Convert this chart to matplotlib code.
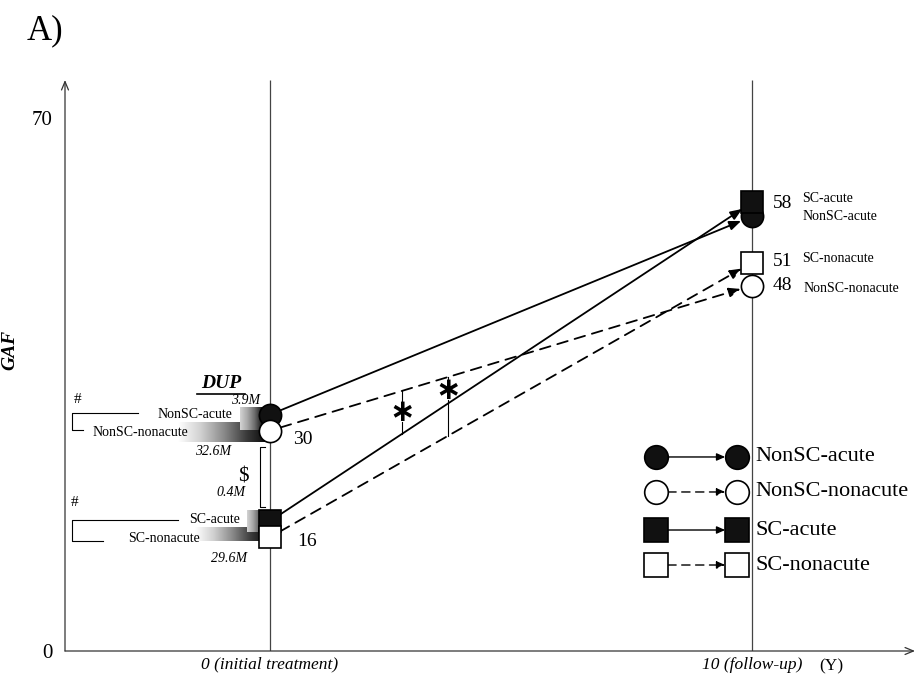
import numpy as np
import matplotlib
matplotlib.use("Agg")
import matplotlib.pyplot as plt
from matplotlib.colors import LinearSegmentedColormap

plt.rcParams["font.family"] = ["Liberation Serif", "DejaVu Serif"]

# GAF scores at initial treatment (year 0) and at follow-up (year 10)
groups = ["NonSC-acute", "NonSC-nonacute", "SC-acute", "SC-nonacute"]
years = [0, 10]
gaf_initial = [30, 30, 16, 16]
gaf_followup = [58, 48, 58, 51]
dup_labels = ["3.9M", "32.6M", "0.4M", "29.6M"]
x_tick_labels = ["0 (initial treatment)", "10 (follow-up)"]
y_tick_values = [0, 70]

# per-group styling
markers = ["o", "o", "s", "s"]
face = ["#111111", "white", "#111111", "white"]
lstyle = ["-", (0, (6, 4)), "-", (0, (6, 4))]
# vertical nudges (pixels) so overlapping symbols stay visible
nudge_initial = [8, -8, 8, -8]
nudge_follow = [-7, 0, 7, 0]

fig = plt.figure(figsize=(9.17, 6.86), dpi=100)
ax = fig.add_axes([65 / 917, 35 / 686, 850 / 917, 571 / 686])
XMIN, XMAX = -4.253, 13.38
YMIN, YMAX = 0, 75
PX_X = 850 / (XMAX - XMIN)
PX_Y = 571 / (YMAX - YMIN)


def dx(p):
    return p / PX_X


def dy(p):
    return p / PX_Y


for s in ax.spines.values():
    s.set_visible(False)

# axes drawn as arrows
ax.annotate("", xy=(0, 1), xytext=(0, 0), xycoords="axes fraction",
            arrowprops=dict(arrowstyle="->,head_length=0.6,head_width=0.25",
                            lw=0.9, color="#333333", shrinkA=0, shrinkB=0))
ax.annotate("", xy=(1, 0), xytext=(0, 0), xycoords="axes fraction",
            arrowprops=dict(arrowstyle="->,head_length=0.6,head_width=0.25",
                            lw=0.9, color="#333333", shrinkA=0, shrinkB=0))

# time guides
ax.vlines(years, YMIN, YMAX, color="#444444", lw=0.9, zorder=1)

ax.set_xticks(years)
ax.set_xticklabels(x_tick_labels, fontstyle="italic", fontsize=12.5)
ax.set_yticks(y_tick_values)
ax.set_yticklabels([str(v) for v in y_tick_values], fontsize=15)
ax.tick_params(axis="x", length=0, pad=4)
ax.tick_params(axis="y", length=0, pad=9)
ax.annotate("(Y)", xy=(11.64, 0), xycoords="data", xytext=(0, -5),
            textcoords="offset points", ha="center", va="top", fontsize=12.5)
ax.set_ylabel("GAF", fontstyle="italic", fontweight="bold", fontsize=14)
ax.yaxis.set_label_coords(-(65 - 18) / 850, (651 - 350) / 571)
fig.text(27 / 917, 1 - 31 / 686, "A)", fontsize=25, va="center", ha="left")

y0s = [gaf_initial[i] + dy(nudge_initial[i]) for i in range(4)]
y1s = [gaf_followup[i] + dy(nudge_follow[i]) for i in range(4)]

# DUP gradient bars (drawn under the year-0 symbols)
cmap_long = LinearSegmentedColormap.from_list(
    "long", ["#ffffff", "#d0d0d0", "#8a8a8a", "#3a3a3a", "#000000"])
cmap_short = LinearSegmentedColormap.from_list(
    "short", ["#d4d4d4", "#a8a8a8", "#6a6a6a", "#111111", "#000000"])
grad = np.linspace(0, 1, 256).reshape(1, -1)
bar_specs = [  # (group, left px, centre offset px, height px, cmap)
    (1, -92, -1, 20, cmap_long),
    (0, -30, -4, 22, cmap_short),
    (3, -75, 3, 14, cmap_long),
    (2, -23, 0, 22, cmap_short),
]
for g, left, off, h, cm in bar_specs:
    yc = y0s[g] + dy(off)
    ax.imshow(grad, extent=(dx(left), 0, yc - dy(h / 2), yc + dy(h / 2)),
              cmap=cm, aspect="auto", interpolation="bilinear", zorder=2)

# trajectories
for i in range(4):
    ax.annotate("", xy=(years[1], y1s[i]), xytext=(years[0], y0s[i]),
                arrowprops=dict(arrowstyle="-|>,head_length=0.7,head_width=0.28",
                                lw=1.3, ls=lstyle[i], color="black",
                                shrinkA=8, shrinkB=8.5), zorder=3)
for i in [0, 2, 1, 3]:
    for t, y in ((years[0], y0s[i]), (years[1], y1s[i])):
        ax.plot([t], [y], marker=markers[i], ms=16, mfc=face[i], mec="black",
                mew=1.2, ls="none", zorder=5)

# values next to the symbols
ax.text(dx(23), y0s[1] - dy(9), str(gaf_initial[1]), fontsize=14, va="center")
ax.text(dx(27), y0s[3] - dy(4), str(gaf_initial[3]), fontsize=14, va="center")
yc58 = (y1s[0] + y1s[2]) / 2
ax.text(10 + dx(21), yc58 + dy(6), str(gaf_followup[0]), fontsize=14, va="center")
ax.text(10 + dx(50), yc58 + dy(11), groups[2], fontsize=10, va="center")
ax.text(10 + dx(50), yc58 - dy(7), groups[0], fontsize=10, va="center")
ax.text(10 + dx(21), y1s[3] + dy(1), str(gaf_followup[3]), fontsize=14, va="center")
ax.text(10 + dx(50), y1s[3] + dy(4), groups[3], fontsize=10, va="center")
ax.text(10 + dx(21), y1s[1], str(gaf_followup[1]), fontsize=14, va="center")
ax.text(10 + dx(51), y1s[1] - dy(3), groups[1], fontsize=10, va="center")

# DUP annotations, left side
yA, yN = y0s[0], y0s[1]
ax.text(dx(-49), yA + dy(31), "DUP", fontsize=14, fontweight="bold",
        fontstyle="italic", ha="center", va="center")
ax.plot([dx(-73), dx(-25)], [yA + dy(21)] * 2, color="black", lw=1.2)
ax.text(dx(-10), yA + dy(14), dup_labels[0], fontsize=10, fontstyle="italic",
        ha="right", va="center")
ax.text(dx(-57), yN - dy(21), dup_labels[1], fontsize=10, fontstyle="italic",
        ha="center", va="center")
ax.text(dx(-38), yA, groups[0], fontsize=10, ha="right", va="center", zorder=4)
ax.text(dx(-82), yN - dy(2), groups[1], fontsize=10, ha="right", va="center", zorder=4)
ax.plot([dx(-132), dx(-198), dx(-198), dx(-187)],
        [yA + dy(2), yA + dy(2), yN + dy(1), yN + dy(1)], color="black", lw=0.8)
ax.text(dx(-192), yA + dy(15), "#", fontsize=11, ha="center", va="center")

yAs, yNs = y0s[2], y0s[3]
ax.text(dx(-25), yAs + dy(29), dup_labels[2], fontsize=10, fontstyle="italic",
        ha="right", va="center")
ax.text(dx(-41), yNs - dy(21.5), dup_labels[3], fontsize=10, fontstyle="italic",
        ha="center", va="center")
ax.text(dx(-30), yAs + dy(2), groups[2], fontsize=10, ha="right", va="center", zorder=4)
ax.text(dx(-70), yNs - dy(1.5), groups[3], fontsize=10, ha="right", va="center", zorder=4)
ax.plot([dx(-92), dx(-198), dx(-198), dx(-167)],
        [yAs + dy(1), yAs + dy(1), yNs - dy(3.5), yNs - dy(3.5)], color="black", lw=0.8)
ax.text(dx(-195), yAs + dy(19), "#", fontsize=11, ha="center", va="center")

# bracket between year-0 groups
btop, bbot = yN - dy(16), yAs + dy(14)
ax.plot([dx(-5), dx(-10), dx(-10), dx(-5)], [btop, btop, bbot, bbot],
        color="black", lw=0.8)
ax.text(dx(-27), (btop + bbot) / 2, r"\$", fontsize=15, ha="center", va="center")


def line_y(i, t):
    return y0s[i] + (y1s[i] - y0s[i]) * (t - years[0]) / (years[1] - years[0])


# significance markers between trajectories: (year, from, to, star sits above line)
gap = dy(10)
for t, a, b, c in ((2.74, 1, 2, 2), (3.69, 1, 3, 2)):
    ya, yb = line_y(a, t), line_y(b, t)
    ym = (ya + line_y(c, t)) / 2
    ax.plot([t, t], [ya, ym + gap], color="black", lw=0.8, zorder=2)
    ax.plot([t, t], [ym - gap, yb], color="black", lw=0.8, zorder=2)
    ax.text(t, ym, "\u2217", family="DejaVu Sans", fontsize=22, fontweight="bold",
            ha="center", va="center", zorder=4)

# key
rows = [0.3398, 0.2785, 0.2119, 0.1506]
for i, yr in enumerate(rows):
    ax.annotate("", xy=(0.7906, yr), xytext=(0.6953, yr), xycoords="axes fraction",
                arrowprops=dict(arrowstyle="-|>,head_length=0.5,head_width=0.22",
                                lw=1.0, ls=lstyle[i], color="black",
                                shrinkA=8.5, shrinkB=8.5), zorder=3)
    for xf in (0.6953, 0.7906):
        ax.plot([xf], [yr], marker=markers[i], ms=17, mfc=face[i], mec="black",
                mew=1.2, ls="none", transform=ax.transAxes, zorder=5)
    ax.text(0.8118, yr, groups[i], fontsize=16, va="center", ha="left",
            transform=ax.transAxes)

ax.set_xlim(XMIN, XMAX)
ax.set_ylim(YMIN, YMAX)
fig.savefig("out.png", dpi=100)
